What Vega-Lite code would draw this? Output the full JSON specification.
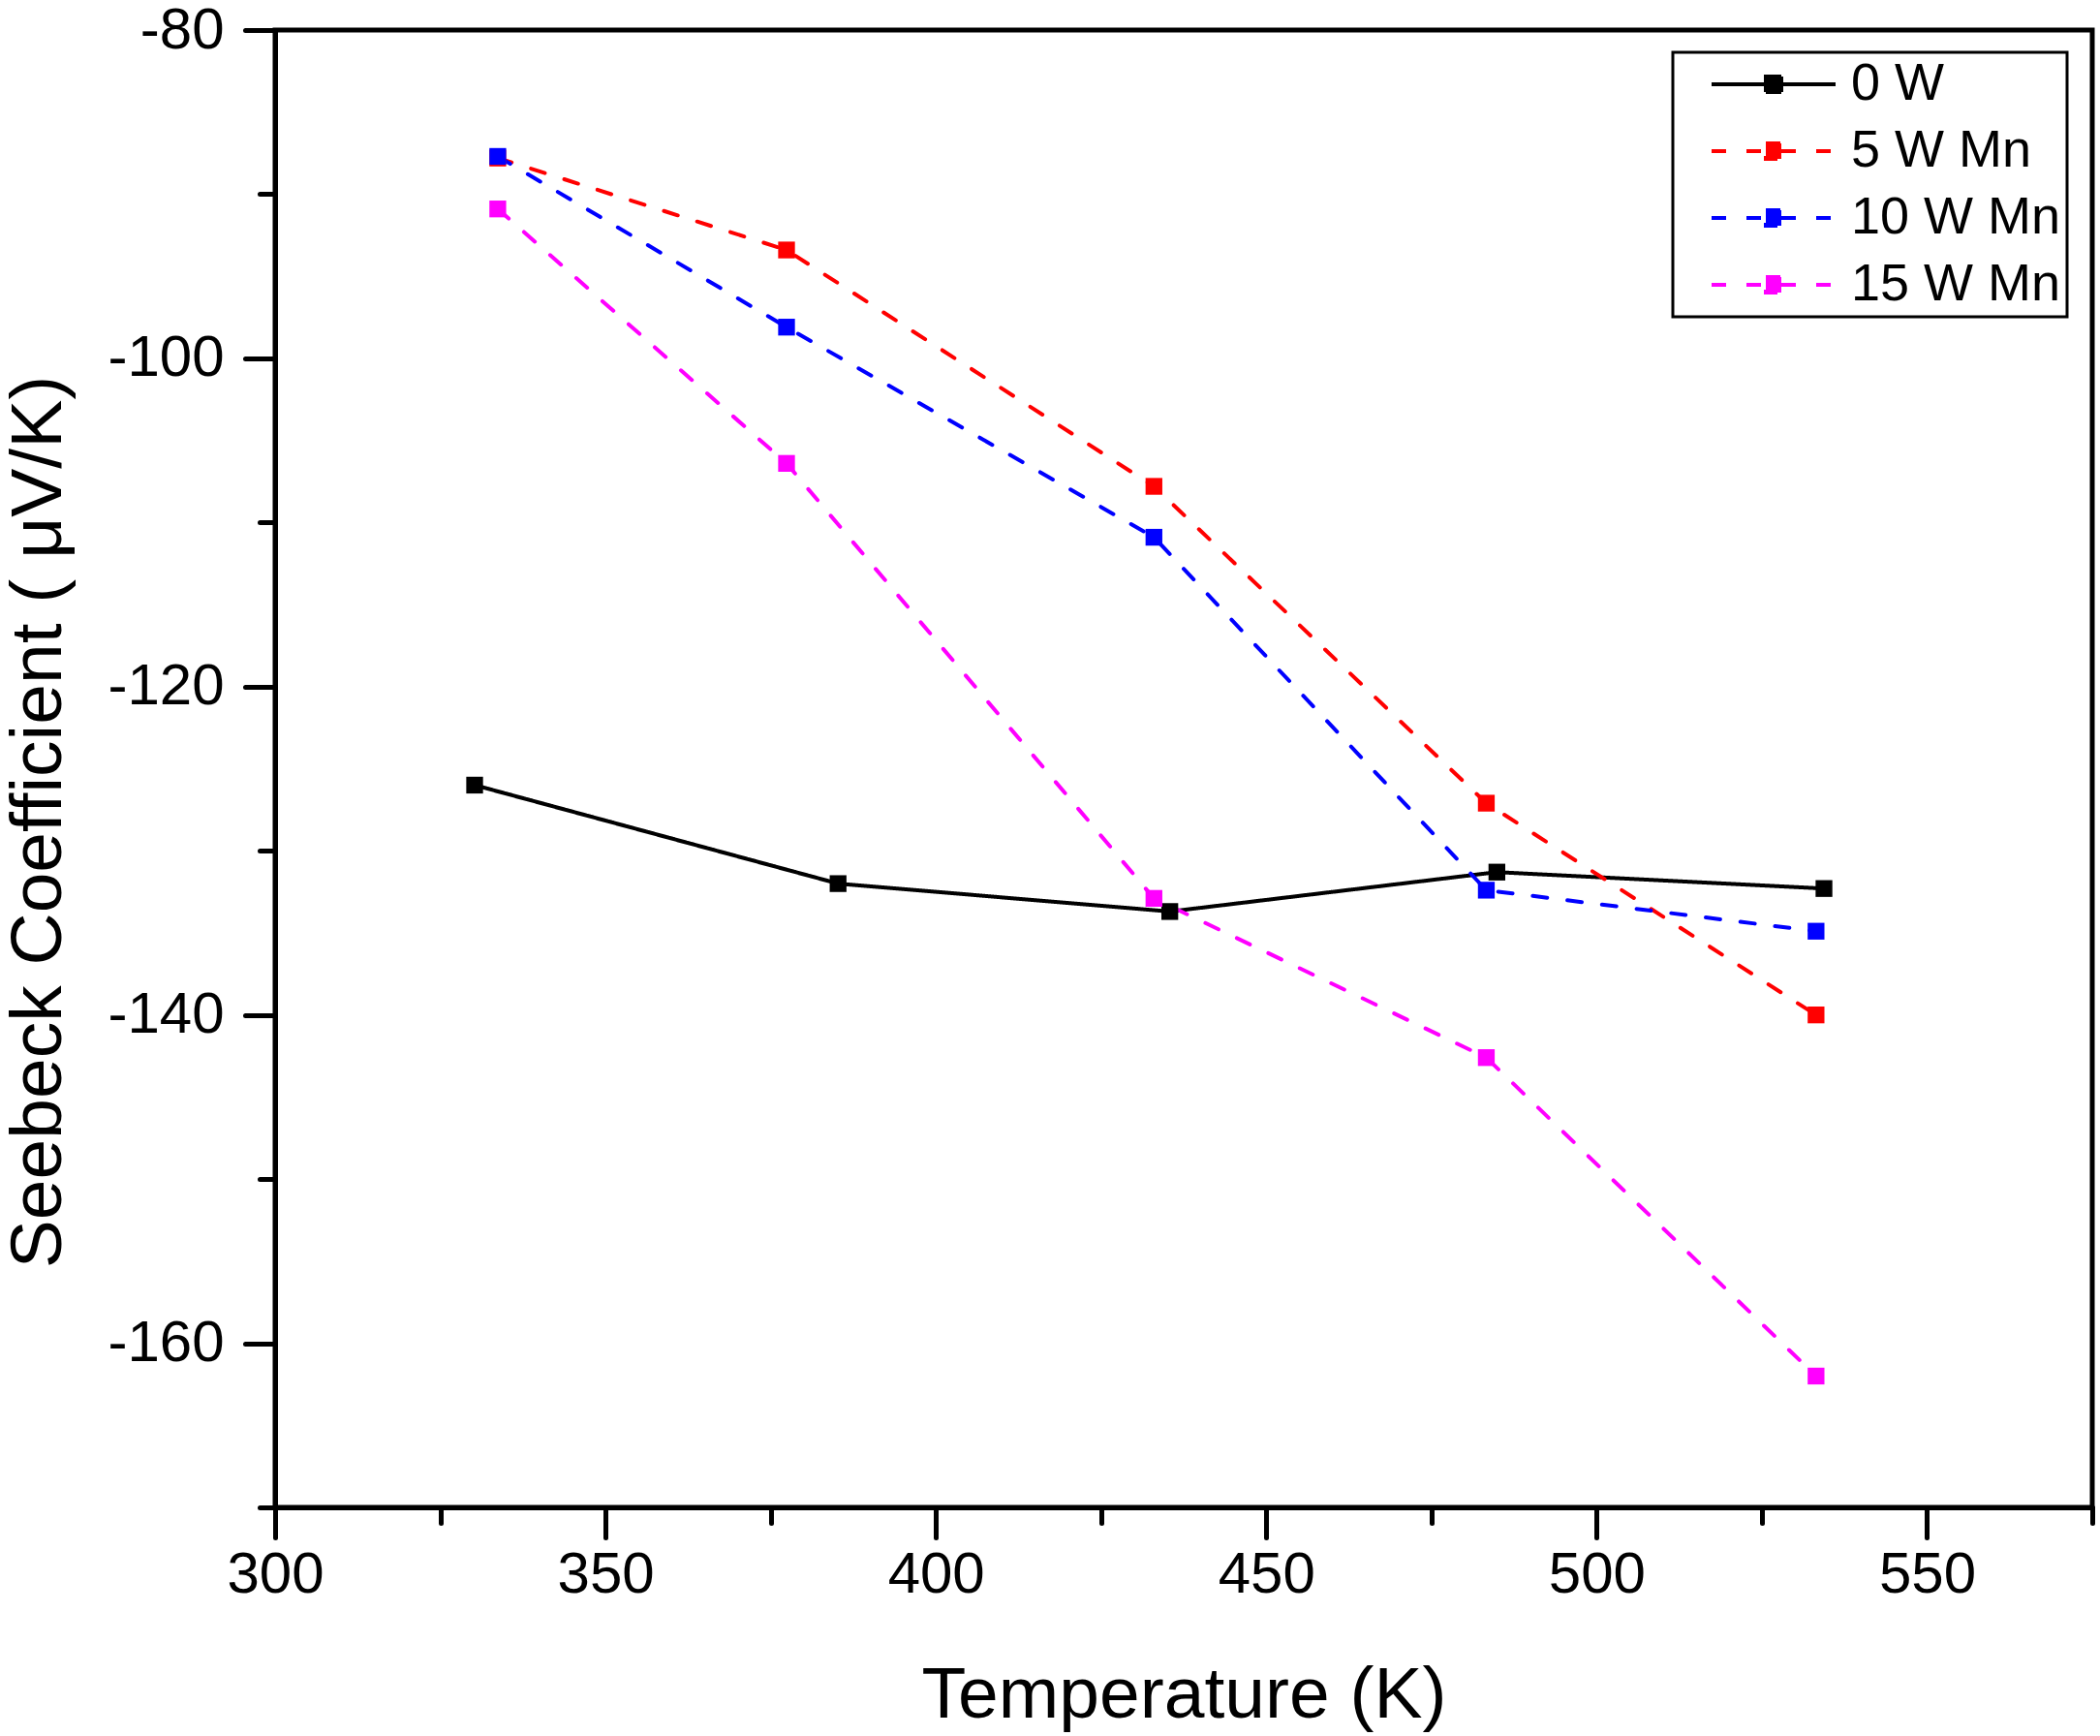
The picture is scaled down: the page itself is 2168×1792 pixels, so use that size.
{
  "$schema": "https://vega.github.io/schema/vega-lite/v6.json",
  "width": 1876,
  "height": 1525,
  "autosize": "none",
  "padding": {"left": 284, "top": 31, "right": 8, "bottom": 236},
  "background": "white",
  "data": {
    "values": [
      {"series": "0 W", "T": 330.2, "S": -126.0},
      {"series": "0 W", "T": 385.2, "S": -132.0},
      {"series": "0 W", "T": 435.4, "S": -133.7},
      {"series": "0 W", "T": 484.9, "S": -131.3},
      {"series": "0 W", "T": 534.4, "S": -132.3},
      {"series": "5 W Mn", "T": 333.7, "S": -87.8},
      {"series": "5 W Mn", "T": 377.4, "S": -93.4},
      {"series": "5 W Mn", "T": 433.0, "S": -107.8},
      {"series": "5 W Mn", "T": 483.3, "S": -127.1},
      {"series": "5 W Mn", "T": 533.2, "S": -140.0},
      {"series": "10 W Mn", "T": 333.7, "S": -87.7},
      {"series": "10 W Mn", "T": 377.4, "S": -98.1},
      {"series": "10 W Mn", "T": 433.0, "S": -110.9},
      {"series": "10 W Mn", "T": 483.3, "S": -132.4},
      {"series": "10 W Mn", "T": 533.2, "S": -134.9},
      {"series": "15 W Mn", "T": 333.7, "S": -90.9},
      {"series": "15 W Mn", "T": 377.4, "S": -106.4},
      {"series": "15 W Mn", "T": 433.0, "S": -132.9},
      {"series": "15 W Mn", "T": 483.3, "S": -142.6},
      {"series": "15 W Mn", "T": 533.2, "S": -162.0}
    ]
  },
  "layer": [
    {
      "mark": {"type": "line", "strokeWidth": 4, "strokeCap": "round"},
      "encoding": {
        "x": {
          "field": "T",
          "type": "quantitative",
          "scale": {"domain": [300, 575], "nice": false, "zero": false},
          "axis": {
            "orient": "bottom",
            "values": [300, 350, 400, 450, 500, 550],
            "labelExpr": "toString(datum.value)",
            "title": "Temperature (K)",
            "titleY": 216,
            "titleBaseline": "alphabetic",
            "tickSize": 31,
            "labelPadding": 9
          }
        },
        "y": {
          "field": "S",
          "type": "quantitative",
          "scale": {"domain": [-170, -80], "nice": false, "zero": false},
          "axis": {
            "orient": "left",
            "values": [-80, -100, -120, -140, -160],
            "labelExpr": "toString(datum.value)",
            "title": "Seebeck Coefficient ( μV/K)",
            "titleX": -222,
            "titleY": 817,
            "titleBaseline": "alphabetic",
            "tickSize": 31,
            "labelPadding": 22
          }
        },
        "color": {
          "field": "series",
          "type": "nominal",
          "scale": {
            "domain": ["0 W", "5 W Mn", "10 W Mn", "15 W Mn"],
            "range": ["#000000", "#ff0000", "#0000ff", "#ff00ff"]
          },
          "legend": {
            "encode": {
              "symbols": {"update": {"fill": {"scale": "color", "field": "value"}, "fillOpacity": {"value": 1}}},
              "legend": {"update": {"strokeWidth": {"value": 3}}}
            }
          }
        },
        "strokeDash": {
          "field": "series",
          "type": "nominal",
          "scale": {
            "domain": ["0 W", "5 W Mn", "10 W Mn", "15 W Mn"],
            "range": [[1, 0], [15, 21], [15, 21], [15, 21]]
          }
        }
      }
    },
    {
      "mark": {"type": "point", "shape": "square", "filled": true, "size": 300, "opacity": 1},
      "encoding": {
        "x": {
          "field": "T",
          "type": "quantitative",
          "axis": {
            "orient": "bottom",
            "values": [325, 375, 425, 475, 525, 575],
            "labels": false,
            "domain": false,
            "title": null,
            "tickSize": 16
          }
        },
        "y": {
          "field": "S",
          "type": "quantitative",
          "axis": {
            "orient": "left",
            "values": [-90, -110, -130, -150, -170],
            "labels": false,
            "domain": false,
            "title": null,
            "tickSize": 16
          }
        },
        "color": {"field": "series", "type": "nominal"}
      }
    }
  ],
  "resolve": {"axis": {"x": "independent", "y": "independent"}},
  "config": {
    "view": {"stroke": "#000000", "strokeWidth": 5},
    "axis": {
      "grid": false,
      "domainColor": "#000000",
      "domainWidth": 5,
      "domainCap": "round",
      "tickColor": "#000000",
      "tickWidth": 5,
      "tickCap": "round",
      "labelFont": "Liberation Sans",
      "labelFontSize": 60,
      "labelColor": "#000000",
      "titleFont": "Liberation Sans",
      "titleFontSize": 75,
      "titleFontWeight": "normal",
      "titleColor": "#000000",
      "labelFlush": false,
      "labelOverlap": false
    },
    "legend": {
      "orient": "none",
      "legendX": 1443,
      "legendY": 23,
      "title": null,
      "padding": 6,
      "strokeColor": "#000000",
      "labelFont": "Liberation Sans",
      "labelFontSize": 54,
      "labelColor": "#000000",
      "labelLimit": 0,
      "labelOffset": 124,
      "rowPadding": 15,
      "symbolType": "M-1.08,0M0.28,0H5.4M2.52,-0.32H3.16V0.32H2.52Z",
      "symbolSize": 2500,
      "symbolStrokeWidth": 4
    }
  }
}
